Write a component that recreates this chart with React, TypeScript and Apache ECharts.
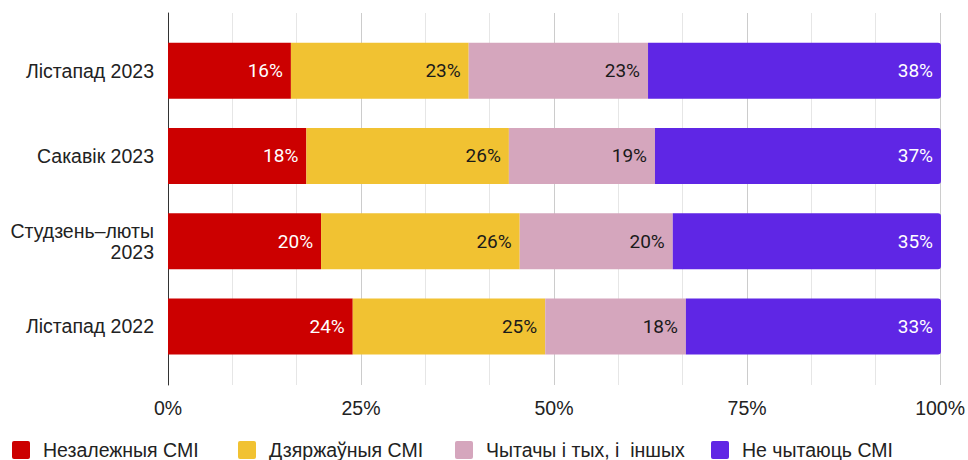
import React, { useEffect, useRef } from "react";
import * as echarts from "echarts";

const categories = ["Лістапад 2023", "Сакавік 2023", "Студзень–люты 2023", "Лістапад 2022"];
const seriesNames = ["Незалежныя СМІ", "Дзяржаўныя СМІ", "Чытачы і тых, і  іншых", "Не чытаюць СМІ"];
const independent = [15.9, 17.9, 19.8, 23.9];
const stateMedia = [23.0, 26.2, 25.7, 24.9];
const both = [23.2, 18.9, 19.8, 18.2];
const none = [37.9, 37.0, 34.7, 33.0];
const xTicks = [0, 25, 50, 75, 100];

const colors = ["#cc0000", "#f1c232", "#d5a6bd", "#5f26e5"];
const labelColors = ["#ffffff", "#1a1a1a", "#1a1a1a", "#ffffff"];
const legendLefts = [12, 238, 455, 711];

export default function App() {
  const ref = useRef<HTMLDivElement>(null);
  useEffect(() => {
    if (!ref.current) return;
    const chart = echarts.init(ref.current, null, { renderer: "svg" });
    const values = [independent, stateMedia, both, none];
    const font = "'Liberation Sans', Arial, sans-serif";
    const icon =
      "path://M2,0 L16,0 Q18,0 18,2 L18,16 Q18,18 16,18 L2,18 Q0,18 0,16 L0,2 Q0,0 2,0 Z";
    chart.setOption({
      animation: false,
      textStyle: { fontFamily: font },
      legend: seriesNames.map((name, i) => ({
        left: legendLefts[i],
        top: 440,
        padding: 0,
        itemWidth: 18,
        itemHeight: 18,
        icon,
        textStyle: { fontSize: 19.5, color: "#222", fontFamily: font, padding: [0, 0, 0, 8] },
        data: [name],
      })),
      grid: [
        { left: 168, right: 27, top: 13, height: 372, containLabel: false },
        { left: 168, right: 27, top: 28, height: 341, containLabel: false },
      ],
      xAxis: [
        {
          gridIndex: 0,
          type: "value",
          min: xTicks[0],
          max: xTicks[xTicks.length - 1],
          interval: 25,
          axisLine: { show: false },
          axisTick: { show: false },
          axisLabel: {
            formatter: (v: number) => (xTicks.includes(v) ? v + "%" : ""),
            fontSize: 19.5,
            color: "#222",
            margin: 13,
            fontFamily: font,
          },
          splitLine: { show: true, lineStyle: { color: "#cccccc", width: 1 } },
          minorTick: { show: false, splitNumber: 3 },
          minorSplitLine: { show: true, lineStyle: { color: "#e6e6e6", width: 1 } },
        },
        {
          gridIndex: 1,
          type: "value",
          min: 0,
          max: 100,
          show: false,
        },
      ],
      yAxis: [
        {
          gridIndex: 0,
          type: "category",
          data: [""],
          axisLine: { show: true, lineStyle: { color: "#333", width: 1 } },
          axisTick: { show: false },
          axisLabel: { show: false },
          splitLine: { show: false },
        },
        {
          gridIndex: 1,
          type: "category",
          inverse: true,
          data: categories,
          axisLine: { show: false },
          axisTick: { show: false },
          axisLabel: {
            fontSize: 19.5,
            color: "#222",
            margin: 14,
            lineHeight: 21,
            align: "right",
            fontFamily: font,
            formatter: (v: string) => v.replace("–люты ", "–люты\n"),
          },
        },
      ],
      series: seriesNames.map((name, i) => ({
        name,
        type: "bar",
        stack: "total",
        xAxisIndex: 1,
        yAxisIndex: 1,
        barWidth: 56,
        data: values[i],
        itemStyle: {
          color: colors[i],
          borderRadius: i === 3 ? [0, 3, 3, 0] : 0,
        },
        label: {
          show: true,
          position: "insideRight",
          distance: 8,
          fontSize: 19,
          fontFamily: "Roboto, sans-serif",
          color: labelColors[i],
          formatter: (p: any) => Math.round(p.value) + "%",
        },
      })),
    });
    return () => chart.dispose();
  }, []);
  return (
    <div
      ref={ref}
      style={{ position: "fixed", left: 0, top: 0, width: 968, height: 460, background: "#fff" }}
    />
  );
}
